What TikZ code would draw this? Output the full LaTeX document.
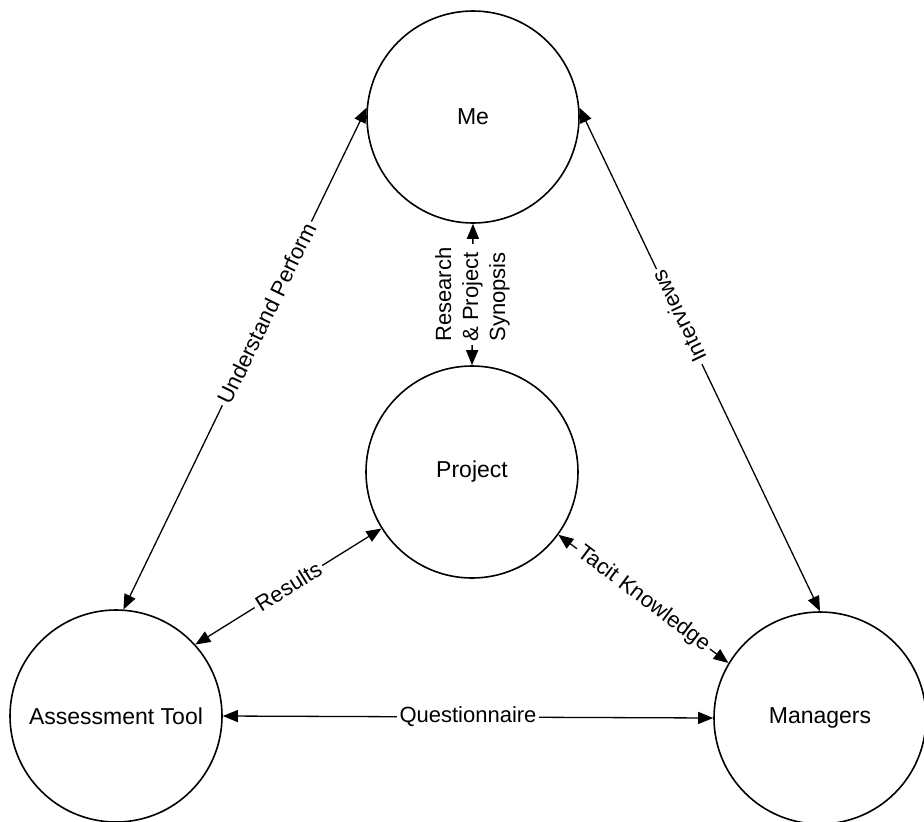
\documentclass[tikz,border=0pt]{standalone}
\usepackage{fontspec}
\setmainfont{Liberation Sans}
\usetikzlibrary{arrows.meta}
\begin{document}
\begin{tikzpicture}[x=1pt,y=-1pt,
  actor/.style={draw, circle, line width=1.6pt, minimum size=212pt, inner sep=0pt, font=\fontsize{23}{27}\selectfont},
  link/.style={arrows={Triangle[length=15pt,width=12pt]-Triangle[length=15pt,width=12pt]}, line width=1.3pt},
  lbl/.style={fill=white, inner sep=3pt, font=\fontsize{22}{27}\selectfont}]
\useasboundingbox (0,0) rectangle (924,822);

% --- circles ---
  \node[actor] (me)      at (473,117) {Me};
  \node[actor] (project) at (472,472) {Project};
  \node[actor] (tool)    at (116,716) {Assessment Tool};
  \node[actor] (mgr)     at (820,718) {Managers};

% --- connectors ---
  \draw[link] (tool.86) -- node[lbl, sloped, pos=0.59] {Understand Perform} (me.175);
  \draw[link] (mgr.90) -- node[lbl, sloped, allow upside down, pos=0.585] {Interviews} (me.5);
  \draw[link] (me.south) -- node[lbl, rotate=90, align=left] {Research\\\& Project\\Synopsis} (project.north);
  \draw[link] (tool.42) -- node[lbl, sloped] {Results} (project.212);
  \draw[link] (project.-36) -- node[lbl, sloped] {Tacit Knowledge} (mgr.149);
  \draw[link] (tool.east) -- node[lbl] {Questionnaire} (mgr.west);
\end{tikzpicture}
\end{document}
